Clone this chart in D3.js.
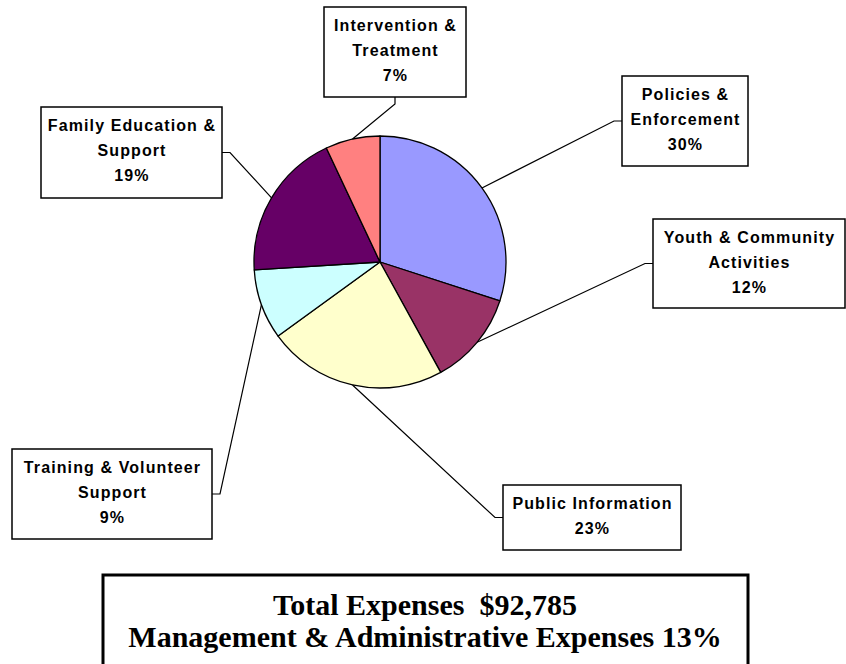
<!DOCTYPE html>
<html>
<head>
<meta charset="utf-8">
<script src="https://cdn.jsdelivr.net/npm/d3@7"></script>
<style>
  html, body { margin: 0; padding: 0; background: #fff; }
  svg { display: block; }
</style>
</head>
<body>
<svg id="chart" width="846" height="664"></svg>
<script>
// ---- data ----
const categories = ["Policies & Enforcement", "Youth & Community Activities", "Public Information",
                    "Training & Volunteer Support", "Family Education & Support", "Intervention & Treatment"];
const values = [30, 12, 23, 9, 19, 7];
const labelLines = [["Policies &", "Enforcement"], ["Youth & Community", "Activities"], ["Public Information"],
                    ["Training & Volunteer", "Support"], ["Family Education &", "Support"], ["Intervention &", "Treatment"]];
const colors = ["#9999FF", "#993366", "#FFFFCC", "#CCFFFF", "#660066", "#FF8080"];
const totalExpenses = 92785;
const mgmtPct = 13;

// ---- layout (positions only) ----
const cx = 380, cy = 262, R = 126;
const boxes = [
  {x: 622, y: 76,  w: 126, h: 90, side: "left"},
  {x: 653, y: 219, w: 192, h: 89, side: "left"},
  {x: 503, y: 485, w: 178, h: 65, side: "left"},
  {x: 12,  y: 449, w: 200, h: 90, side: "right"},
  {x: 41,  y: 107, w: 181, h: 91, side: "right"},
  {x: 324, y: 7,   w: 142, h: 90, side: "bottom"}
];

const svg = d3.select("#chart");
const total = d3.sum(values);
const pct = d3.format(".0%");

const pie = d3.pie().sort(null).value(d => d.v);
const arcs = pie(values.map((v, i) => ({v, i})));
const arc = d3.arc().innerRadius(0).outerRadius(R);
const edge = d3.arc().innerRadius(R).outerRadius(R);

const g = svg.append("g").attr("transform", `translate(${cx},${cy})`);
g.selectAll("path.slice").data(arcs).join("path")
  .attr("class", "slice")
  .attr("d", arc)
  .attr("fill", d => colors[d.data.i])
  .attr("stroke", "#000")
  .attr("stroke-width", 1.3)
  .attr("stroke-linejoin", "round");

// leaders
arcs.forEach(d => {
  const b = boxes[d.data.i];
  const [px, py] = edge.centroid(d);
  const sx = cx + px, sy = cy + py;
  let ax, ay, tx, ty;
  if (b.side === "left") { ax = b.x; ay = b.y + b.h / 2; tx = ax - 8; ty = ay; }
  else if (b.side === "right") { ax = b.x + b.w; ay = b.y + b.h / 2; tx = ax + 8; ty = ay; }
  else { ax = b.x + b.w / 2; ay = b.y + b.h; tx = ax; ty = ay + 7; }
  svg.append("path")
    .attr("d", d3.line()([[sx, sy], [tx, ty], [ax, ay]]))
    .attr("fill", "none").attr("stroke", "#000").attr("stroke-width", 1.2);
});

// label boxes
arcs.forEach(d => {
  const i = d.data.i, b = boxes[i];
  svg.append("rect")
    .attr("x", b.x).attr("y", b.y).attr("width", b.w).attr("height", b.h)
    .attr("fill", "#fff").attr("stroke", "#000").attr("stroke-width", 1.5);
  const lines = labelLines[i].concat([pct(values[i] / total)]);
  const t = svg.append("text")
    .attr("text-anchor", "middle")
    .attr("font-family", "Arial, 'Liberation Sans', sans-serif")
    .attr("font-weight", "bold")
    .attr("font-size", 16)
    .attr("letter-spacing", 1.1)
    .attr("fill", "#000");
  lines.forEach((s, k) => {
    t.append("tspan").attr("x", b.x + b.w / 2 + 0.5).attr("y", b.y + 23.5 + k * 25).text(s);
  });
});

// bottom summary box
svg.append("rect")
  .attr("x", 103).attr("y", 575).attr("width", 645).attr("height", 110)
  .attr("fill", "#fff").attr("stroke", "#000").attr("stroke-width", 3);
const st = svg.append("text")
  .attr("text-anchor", "middle")
  .attr("font-family", "'Times New Roman', 'Liberation Serif', serif")
  .attr("font-weight", "bold")
  .attr("font-size", 30)
  .attr("fill", "#000")
  .style("white-space", "pre");
st.append("tspan").attr("x", 425).attr("y", 615).text("Total Expenses  " + d3.format("$,")(totalExpenses));
st.append("tspan").attr("x", 425).attr("y", 647).text("Management & Administrative Expenses " + mgmtPct + "%");
</script>
</body>
</html>
